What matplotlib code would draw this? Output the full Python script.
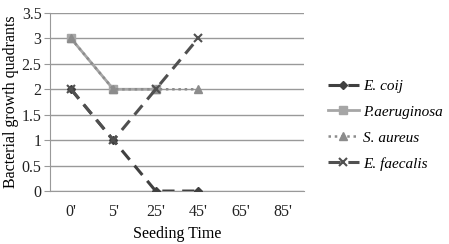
import matplotlib
matplotlib.use('Agg')
import matplotlib.pyplot as plt
import numpy as np

times = ["0'", "5'", "25'", "45'", "65'", "85'"]
e_coli = [2, 1, 0, 0, np.nan, np.nan]
p_aeruginosa = [3, 2, 2, np.nan, np.nan, np.nan]
s_aureus = [3, 2, 2, 2, np.nan, np.nan]
e_faecalis = [2, 1, 2, 3, np.nan, np.nan]

plt.rcParams['font.family'] = ['Liberation Serif', 'DejaVu Serif']

fig = plt.figure(figsize=(4.49, 2.44), dpi=100)
ax = fig.add_axes([0.111, 0.217, 0.566, 0.730])

x = np.arange(len(times))
ax.plot(x, e_coli, color='#404040', ls=(0, (4, 2.5)), lw=2.2, marker='D', ms=4.5,
        label='E. coij', zorder=4)
ax.plot(x, p_aeruginosa, color='#a6a6a6', ls='-', lw=2, marker='s', ms=6,
        label='P.aeruginosa', zorder=3)
ax.plot(x, s_aureus, color='#8c8c8c', ls=(0, (1, 1.5)), lw=1.8, marker='^', ms=6,
        label='S. aureus', zorder=3)
ax.plot(x, e_faecalis, color='#505050', ls=(0, (4, 2.5)), lw=2.2, marker='x', ms=6,
        mew=1.5, label='E. faecalis', zorder=5)

ax.set_xlim(-0.5, len(times) - 0.5)
ax.set_ylim(0, 3.5)
ax.set_yticks(np.arange(0, 3.51, 0.5))
ax.set_yticklabels(['0', '0.5', '1', '1.5', '2', '2.5', '3', '3.5'])
ax.set_xticks(x)
ax.set_xticklabels(times)
ax.tick_params(axis='both', labelsize=11.5, colors='#222222', length=0, pad=9)
ax.tick_params(axis='y', length=4, color='#999999', pad=2)
ax.grid(axis='y', color='#999999', lw=1)
ax.set_axisbelow(True)
for s in ['top', 'right']:
    ax.spines[s].set_visible(False)
ax.spines['left'].set_color('#999999')
ax.spines['bottom'].set_color('#999999')

ax.set_ylabel('Bacterial growth quadrants', fontsize=11.5, labelpad=2)
ax.set_xlabel('Seeding Time', fontsize=11.5, labelpad=5)

leg = fig.legend(loc='center left', bbox_to_anchor=(0.70, 0.488), frameon=False,
                 fontsize=11, handlelength=2.0, labelspacing=0.8, handletextpad=0.3)
for t in leg.get_texts():
    t.set_fontstyle('italic')

fig.savefig('out.png', dpi=100)
